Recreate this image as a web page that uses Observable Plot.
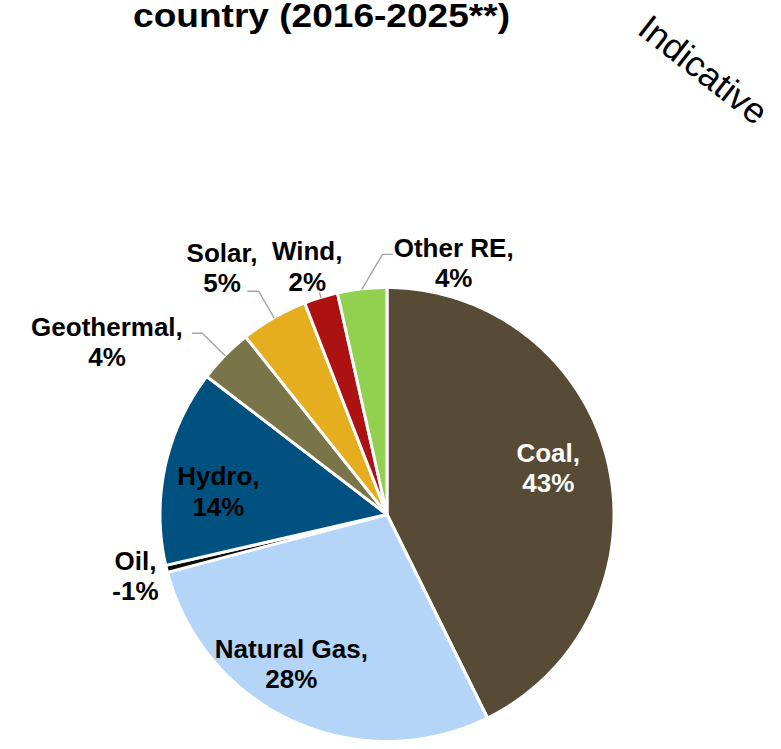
<!DOCTYPE html>
<html><head><meta charset="utf-8">
<script src="https://cdn.jsdelivr.net/npm/d3@7"></script>
<script src="https://cdn.jsdelivr.net/npm/@observablehq/plot@0.6"></script>
<style>
body{margin:0;background:#fff;}
#wrap{position:relative;width:781px;height:749px;overflow:hidden;font-family:"Liberation Sans",Arial,sans-serif;}
#chart{position:absolute;left:0;top:0;}
#title{position:absolute;left:0;top:-2px;width:643px;text-align:center;font-weight:bold;font-size:34px;line-height:1;white-space:nowrap;transform:scaleX(1.09);transform-origin:321.5px 0;}
#ind{position:absolute;left:703px;top:70px;transform:translate(-50%,-50%) rotate(38deg);font-size:36px;line-height:1;white-space:nowrap;}
</style></head><body>
<div id="wrap"><div id="chart"></div><div id="title">country (2016-2025**)</div><div id="ind">Indicative</div></div>
<script>
// ---- data ----
const categories = ["Coal", "Natural Gas", "Oil", "Hydro", "Geothermal", "Solar", "Wind", "Other RE"];
const shares = [42.7, 28.2, 0.5, 14.0, 3.9, 4.8, 2.4, 3.5];   // slice sizes as drawn
const pctLabels = ["43%", "28%", "-1%", "14%", "4%", "5%", "2%", "4%"];
const colors = ["#584b35", "#b4d5f8", "#0d0d0d", "#00517f", "#7a7549", "#e4ae1e", "#ad1213", "#92d050"];

// ---- layout ----
const W = 781, H = 749, R = 227, CX = 386.5, CY = 514;
const labelAngle  = [73.7, 212.7, 256.4, 278, 301.7, 326.3, 342.2, 14.8];
const labelRadius = [0.74, 0.78, 1.14, 0.75, 1.45, 1.31, 1.15, 1.15];
const leaders = [
  {c: "Geothermal", elbowR: 1.14, hor: -0.044},
  {c: "Solar", elbowR: 1.134, hor: -0.048},
  {c: "Wind", elbowR: 1.02, hor: 0},
  {c: "Other RE", elbowAngle: 359, elbowR: 1.146, hor: 0.044}
];

const pt = (deg, r) => [r * Math.sin(deg * Math.PI / 180), r * Math.cos(deg * Math.PI / 180)];
let acc = 0;
const slices = categories.map((c, i) => {
  const a0 = acc / 100 * 360; acc += shares[i]; const a1 = acc / 100 * 360;
  return {c, a0, a1, mid: (a0 + a1) / 2, i};
});
const pieRows = [];
for (const s of slices) {
  const n = Math.max(2, Math.ceil((s.a1 - s.a0) / 0.5));
  pieRows.push({c: s.c, x: 0, y: 0});
  for (let k = 0; k <= n; k++) {
    const [x, y] = pt(s.a0 + (s.a1 - s.a0) * k / n, 1);
    pieRows.push({c: s.c, x, y});
  }
  pieRows.push({c: s.c, x: 0, y: 0});
}
const labelRows = slices.map((s, i) => {
  const [x, y] = pt(labelAngle[i], labelRadius[i]);
  return {c: s.c, x, y, t: `${s.c},\n${pctLabels[i]}`};
});
const leaderRows = [];
for (const L of leaders) {
  const s = slices.find(d => d.c === L.c);
  const [ex, ey] = pt(s.mid, 1);
  const [bx, by] = pt(L.elbowAngle ?? s.mid, L.elbowR);
  leaderRows.push({c: L.c, x: ex, y: ey}, {c: L.c, x: bx, y: by});
  if (L.hor) leaderRows.push({c: L.c, x: bx + L.hor, y: by});
}

const chart = Plot.plot({
  width: W, height: H, margin: 0,
  x: {domain: [-CX / R, (W - CX) / R], axis: null},
  y: {domain: [-(H - CY) / R, CY / R], axis: null},
  color: {domain: categories, range: colors},
  style: {fontFamily: "'Liberation Sans', Arial, sans-serif", background: "transparent"},
  marks: [
    Plot.line(pieRows, {x: "x", y: "y", z: "c", fill: "c", stroke: "white", strokeWidth: 3}),
    Plot.line(leaderRows, {x: "x", y: "y", z: "c", stroke: "#a6a6a6", strokeWidth: 1.4}),
    Plot.text(labelRows.filter(d => d.c === "Coal"), {x: "x", y: "y", text: "t", fill: "white", fontSize: 26, fontWeight: "bold", lineHeight: 1.17}),
    Plot.text(labelRows.filter(d => d.c !== "Coal"), {x: "x", y: "y", text: "t", fill: "black", fontSize: 26, fontWeight: "bold", lineHeight: 1.17})
  ]
});
document.getElementById("chart").appendChild(chart);
</script>
</body></html>
